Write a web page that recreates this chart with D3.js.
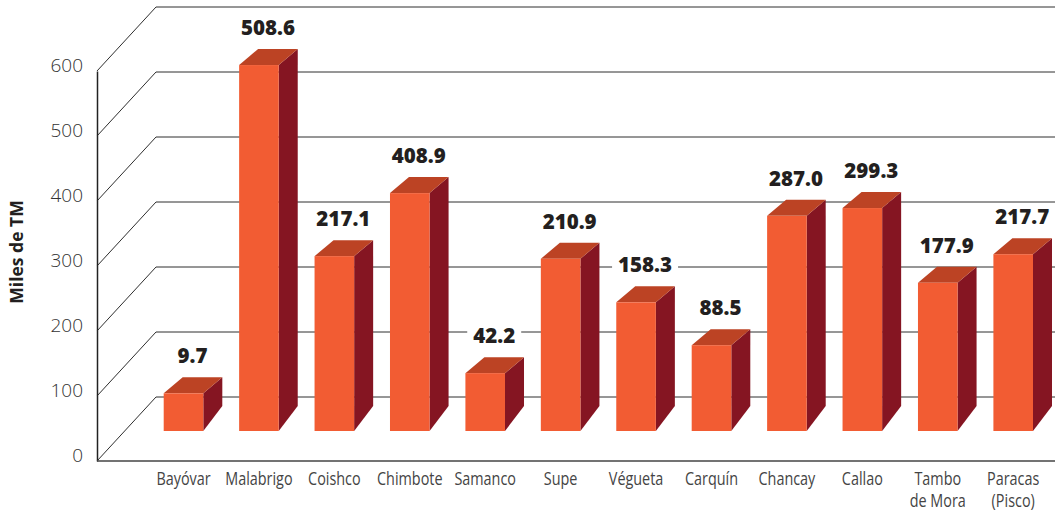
<!DOCTYPE html>
<html>
<head>
<meta charset="utf-8">
<script src="https://cdn.jsdelivr.net/npm/d3@7"></script>
<style>
  html, body { margin: 0; padding: 0; background: #fff; }
  svg { display: block; }
</style>
</head>
<body>
<svg id="svg"></svg>
<script>
// values printed above the bars
const ports = ["Bayóvar", "Malabrigo", "Coishco", "Chimbote", "Samanco", "Supe", "Végueta", "Carquín", "Chancay", "Callao", "Tambo\nde Mora", "Paracas\n(Pisco)"];
const printed = ["9.7", "508.6", "217.1", "408.9", "42.2", "210.9", "158.3", "88.5", "287.0", "299.3", "177.9", "217.7"];
// bar heights as drawn, read against the axis (the source does not draw them to the printed values)
const drawnHeight = [58, 563, 269, 366, 89, 265, 198, 132, 331, 343, 228, 272];
const yTicks = [0, 100, 200, 300, 400, 500, 600];

const layout = {width: 1055, height: 512, left: 97, bottom: 461, top: 71, wallX: 59, wallY: 64, barLift: 30, sideX: 19, sideTop: 16, sideBottom: 25};

const svg = d3.select("#svg").attr("width", layout.width).attr("height", layout.height);

const x = d3.scaleBand().domain(ports).range([163.7, 1033]).paddingInner(0.475).paddingOuter(0);
const y = d3.scaleLinear().domain([0, 600]).range([layout.bottom, layout.top]);

// walls
const grid = svg.append("g").attr("fill", "none").attr("stroke", "#2e2e2e").attr("stroke-width", 1);
grid.selectAll(".diag").data(yTicks).join("line").attr("class", "diag")
  .attr("x1", layout.left).attr("y1", d => y(d))
  .attr("x2", layout.left + layout.wallX).attr("y2", d => y(d) - layout.wallY);
grid.selectAll(".back").data(yTicks).join("line").attr("class", "back")
  .attr("x1", layout.left + layout.wallX).attr("y1", d => y(d) - layout.wallY)
  .attr("x2", layout.width).attr("y2", d => y(d) - layout.wallY);

// axes
const yAxis = svg.append("g")
  .attr("transform", `translate(${layout.left},0)`)
  .call(d3.axisLeft(y).tickValues(yTicks).tickSize(0).tickPadding(14));
yAxis.select(".domain").attr("stroke", "#222").attr("stroke-width", 1.5);
yAxis.selectAll("text").attr("font-family", "Open Sans").attr("font-weight", 300).attr("font-size", 19)
  .attr("fill", "#333").attr("dy", "0.05em");

const xAxis = svg.append("g")
  .attr("transform", `translate(0,${layout.bottom})`)
  .call(d3.axisBottom(x).tickSize(0).tickFormat(""));
xAxis.select(".domain").attr("d", `M${layout.left},0H${layout.width}`).attr("stroke", "#444").attr("stroke-width", 1.5);
xAxis.selectAll(".tick text").remove();
xAxis.selectAll(".tick").each(function(d) {
  const t = d3.select(this).append("text")
    .attr("transform", "scale(0.8,1)")
    .attr("text-anchor", "middle")
    .attr("font-family", "Open Sans").attr("font-size", 18).attr("fill", "#444");
  d.split("\n").forEach((line, i) => t.append("tspan").attr("x", 0).attr("y", 24 + i * 22).text(line));
});

// bars
const bars = svg.selectAll(".bar").data(ports.map((p, i) => ({port: p, h: drawnHeight[i], label: printed[i]}))).join("g").attr("class", "bar");
const base = y(0) - layout.barLift;
const top_ = d => y(d.h) - layout.barLift;

bars.append("path").attr("fill", "#851522")
  .attr("d", d => {
    const r = x(d.port) + x.bandwidth();
    return `M${r},${top_(d)}L${r + layout.sideX},${top_(d) - layout.sideTop}V${base - layout.sideBottom}L${r},${base}Z`;
  });
bars.append("path").attr("fill", "#BC4324")
  .attr("d", d => {
    const l = x(d.port), r = l + x.bandwidth(), t = top_(d);
    return `M${l},${t}L${l + layout.sideX},${t - layout.sideTop}H${r + layout.sideX}L${r},${t}Z`;
  });
bars.append("rect").attr("fill", "#F25C33")
  .attr("x", d => x(d.port)).attr("y", d => top_(d))
  .attr("width", x.bandwidth()).attr("height", d => base - top_(d));

// printed values, a white box behind each one breaks the gridlines
const labels = bars.append("text")
  .attr("x", d => x(d.port) + x.bandwidth() / 2 + 9)
  .attr("y", d => top_(d) - 30)
  .attr("text-anchor", "middle")
  .attr("font-family", "Open Sans").attr("font-weight", 800).attr("font-size", 20.5)
  .attr("fill", "#231f20")
  .text(d => d.label);
labels.each(function() {
  const w = this.getComputedTextLength();
  const tx = +this.getAttribute("x"), ty = +this.getAttribute("y");
  d3.select(this.parentNode).insert("rect", "text")
    .attr("fill", "#fff")
    .attr("x", tx - w / 2 - 6).attr("y", ty - 14.5)
    .attr("width", w + 12).attr("height", 15);
});

svg.append("text")
  .attr("transform", "translate(23,252) rotate(-90)")
  .attr("text-anchor", "middle")
  .attr("font-family", "Open Sans").attr("font-weight", 700).attr("font-size", 17.5)
  .attr("fill", "#231f20")
  .text("Miles de TM");
</script>
</body>
</html>
